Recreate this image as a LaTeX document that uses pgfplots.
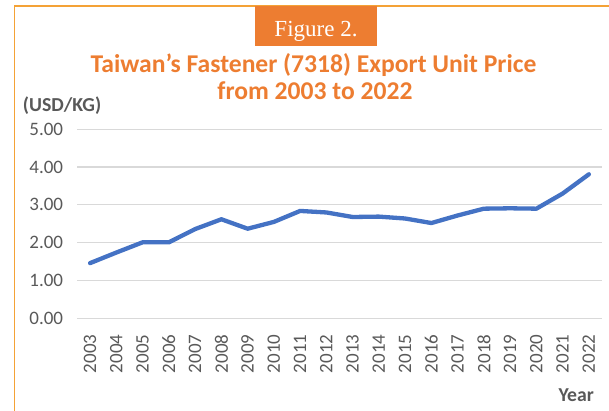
\documentclass[border=0pt]{standalone}
\usepackage{pgfplots}
\pgfplotsset{compat=1.18}
\usepackage{fontspec}
\setmainfont{Carlito}
\newfontfamily\seriffont{Liberation Serif}
\definecolor{figorange}{HTML}{ED7D31}
\definecolor{frameorange}{HTML}{F4A236}
\definecolor{txtgray}{HTML}{595959}
\definecolor{gridgray}{HTML}{D9D9D9}
\definecolor{lineblue}{HTML}{4472C4}
\begin{document}
\begin{tikzpicture}[x=1pt,y=1pt]
\useasboundingbox (0,0) rectangle (609,411);
% frame
\draw[frameorange, line width=1.5pt] (14.3,-2) -- (14.3,405) -- (612,405);
% figure label box
\fill[figorange] (255,365) rectangle (377,405);
\node[anchor=base, inner sep=0pt, text=white, font=\seriffont\fontsize{23}{27}\selectfont] at (316,374.3) {Figure 2.};
% title
\node[anchor=base, inner sep=0pt, text=figorange, font=\bfseries\fontsize{25.6}{30}\selectfont] at (313.5,338.3) {Taiwan’s Fastener (7318) Export Unit Price};
\node[anchor=base, inner sep=0pt, text=figorange, font=\bfseries\fontsize{25.6}{30}\selectfont] at (315,311) {from 2003 to 2022};
% axis labels
\node[anchor=base west, inner sep=0pt, text=txtgray, font=\bfseries\fontsize{19.8}{24}\selectfont] at (22.7,299.3) {(USD/KG)};
\node[anchor=base east, inner sep=0pt, text=txtgray, font=\bfseries\fontsize{19.7}{24}\selectfont] at (594,9) {Year};
\begin{axis}[
  at={(77pt,92.7pt)}, anchor=south west,
  scale only axis, width=525pt, height=189pt,
  xmin=-0.5, xmax=19.5, ymin=0, ymax=5,
  axis line style={draw=none},
  major tick length=0pt,
  xtick={0,...,19},
  xticklabels={2003,2004,2005,2006,2007,2008,2009,2010,2011,2012,2013,2014,2015,2016,2017,2018,2019,2020,2021,2022},
  ytick={0,1,2,3,4,5},
  yticklabel={\pgfmathprintnumber[fixed,fixed zerofill,precision=2]{\tick}},
  /pgf/number format/assume math mode=true,
  ymajorgrids, xmajorgrids=false,
  grid style={gridgray, line width=1.2pt},
  tick label style={text=txtgray, font=\fontsize{19}{23}\selectfont, inner sep=0pt},
  xticklabel style={rotate=90, anchor=east},
  yticklabel style={anchor=east},
  xticklabel shift=16pt,
  yticklabel shift=13.7pt,
  clip=false,
]
\addplot[lineblue, line width=4.3pt, line join=round, line cap=round] coordinates {
(0,1.46) (1,1.74) (2,2.01) (3,2.01) (4,2.36) (5,2.62) (6,2.37) (7,2.55) (8,2.84) (9,2.80)
(10,2.68) (11,2.69) (12,2.64) (13,2.52) (14,2.72) (15,2.90) (16,2.91) (17,2.90) (18,3.30) (19,3.81)
};
\end{axis}
\end{tikzpicture}
\end{document}
